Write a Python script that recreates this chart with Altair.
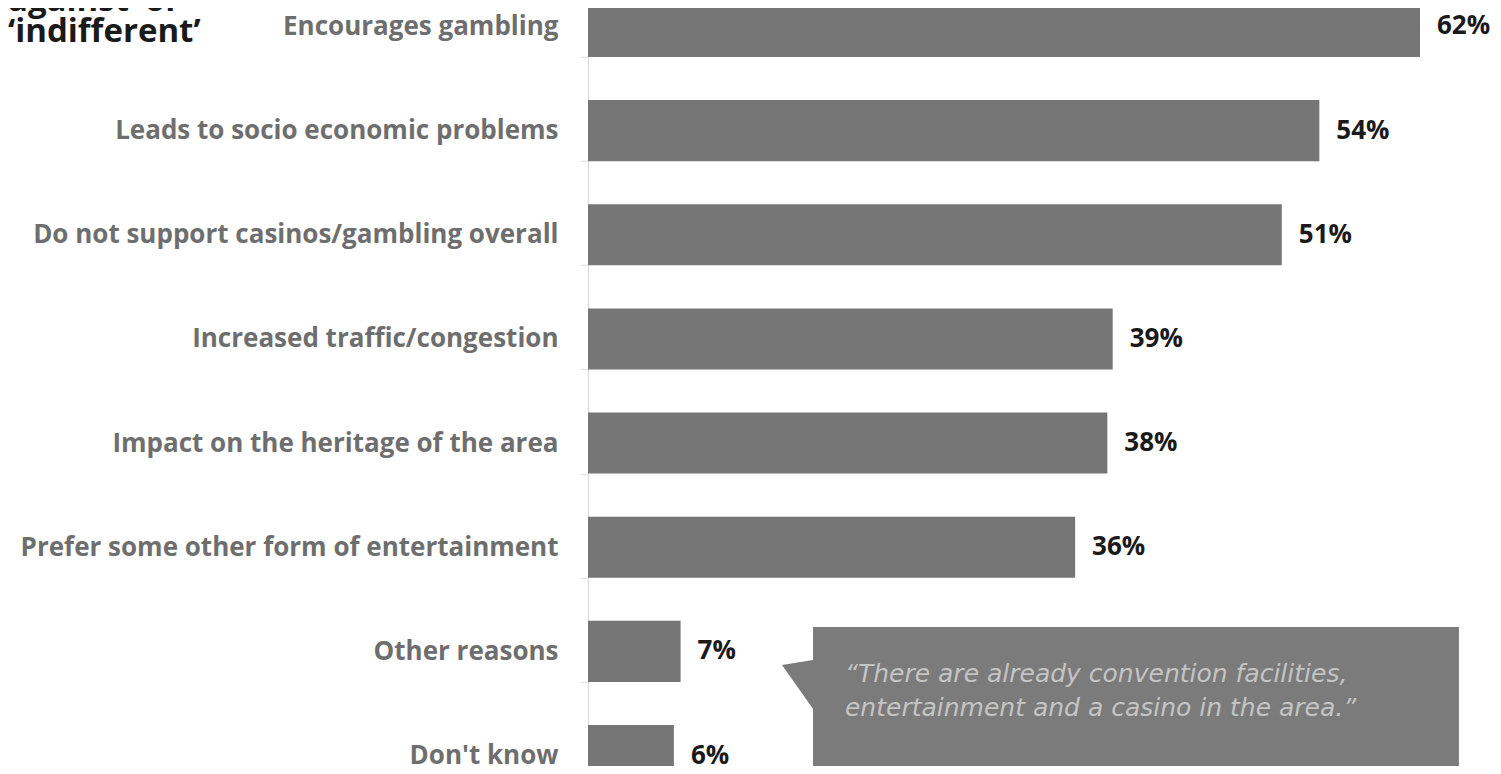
import altair as alt
import pandas as pd

categories = [
    "Encourages gambling",
    "Leads to socio economic problems",
    "Do not support casinos/gambling overall",
    "Increased traffic/congestion",
    "Impact on the heritage of the area",
    "Prefer some other form of entertainment",
    "Other reasons",
    "Don't know",
]
# bar lengths (percent)
values = [62.0, 54.5, 51.7, 39.1, 38.7, 36.3, 6.9, 6.4]
value_labels = ["62%", "54%", "51%", "39%", "38%", "36%", "7%", "6%"]
heading_lines = ["against\u2019 or", "\u2018indifferent\u2019"]
quote_lines = [
    "\u201cThere are already convention facilities,",
    "entertainment and a casino in the area.\u201d",
]

df = pd.DataFrame({"category": categories, "value": values, "label": value_labels})
one = pd.DataFrame({"k": [0]})

BAR = "#767676"
BOX = "#7b7b7b"
FONT = "Open Sans"

x_scale = alt.Scale(domain=[0, 67.44], nice=False, zero=True)
y_enc = alt.Y(
    "category:N",
    sort=None,
    title=None,
    scale=alt.Scale(range=[-33.6, 799.6], paddingInner=0.414, paddingOuter=0.207),
    axis=alt.Axis(
        labelFont=FONT,
        labelFontSize=26,
        labelFontWeight="bold",
        labelColor="#6e6e6e",
        labelLimit=700,
        labelPadding=22,
        ticks=True,
        tickSize=8,
        tickColor="#e4e4e4",
        tickBand="extent",
        domainColor="#d6d6d6",
        domainWidth=1,
        grid=False,
        title=None,
    ),
)

bars = alt.Chart(df).mark_bar(color=BAR, clip=True).encode(
    x=alt.X("value:Q", scale=x_scale, axis=None),
    y=y_enc,
)

vals = alt.Chart(df).mark_text(
    align="left", baseline="middle", dx=17, font=FONT, fontSize=26,
    fontWeight="bold", color="#1a1a1a"
).encode(
    x=alt.X("value:Q", scale=x_scale, axis=None),
    y=alt.Y("category:N", sort=None),
    text="label:N",
)

box = alt.Chart(one).mark_rect(color=BOX).encode(
    x=alt.datum(16.77),
    x2=alt.datum(64.9),
    y=alt.value(619),
    y2=alt.value(790),
)

pointer = alt.Chart(one).mark_point(
    shape="M -0.5 -0.84 L 0.8 -1.05 L 0.8 1 Z",
    filled=True, size=3844, color=BOX, opacity=1, strokeWidth=0,
).encode(
    x=alt.datum(15.61),
    y=alt.value(683),
)

quote = alt.Chart(one).mark_text(
    text=quote_lines, align="left", baseline="alphabetic", font="DejaVu Sans",
    fontSize=25, fontStyle="italic", color="#c4c4c4", lineHeight=34,
).encode(
    x=alt.datum(19.15),
    y=alt.value(674),
)

heading = alt.Chart(one).mark_text(
    text=heading_lines, align="left", baseline="alphabetic", font=FONT,
    fontSize=33, fontWeight="bold", color="#1a1a1a", lineHeight=31,
).encode(
    x=alt.value(-580),
    y=alt.value(3),
)

chart = alt.layer(bars, vals, box, pointer, quote, heading).properties(
    width=905,
    height=758,
    padding={"left": 580, "top": 0, "right": 0, "bottom": 0},
    autosize=alt.AutoSizeParams(type="none"),
    background="white",
).configure_view(stroke=None)

chart.save("out.html", embed_options={"renderer": "svg", "actions": False})
